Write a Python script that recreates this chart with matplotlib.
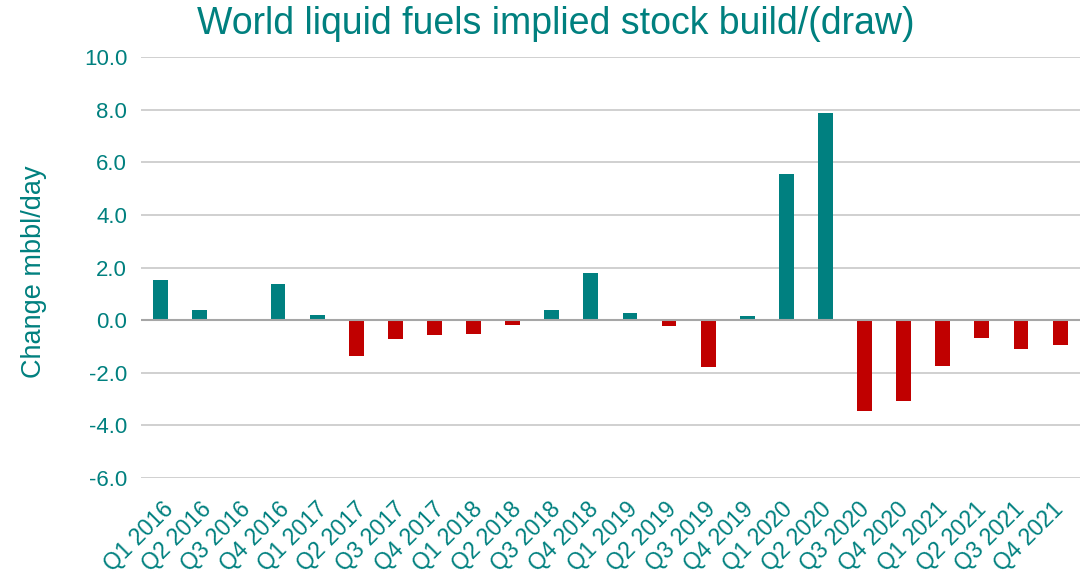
import matplotlib
matplotlib.use("Agg")
import matplotlib.pyplot as plt
from matplotlib.transforms import ScaledTranslation

plt.rcParams['font.family'] = ['Liberation Sans', 'DejaVu Sans']

quarters = ["Q1 2016", "Q2 2016", "Q3 2016", "Q4 2016",
            "Q1 2017", "Q2 2017", "Q3 2017", "Q4 2017",
            "Q1 2018", "Q2 2018", "Q3 2018", "Q4 2018",
            "Q1 2019", "Q2 2019", "Q3 2019", "Q4 2019",
            "Q1 2020", "Q2 2020", "Q3 2020", "Q4 2020",
            "Q1 2021", "Q2 2021", "Q3 2021", "Q4 2021"]
values = [1.51, 0.39, 0.0, 1.36,
          0.20, -1.35, -0.73, -0.56,
          -0.54, -0.19, 0.38, 1.81,
          0.28, -0.23, -1.78, 0.15,
          5.54, 7.89, -3.45, -3.08,
          -1.76, -0.69, -1.10, -0.93]
y_ticks = [-6, -4, -2, 0, 2, 4, 6, 8, 10]

TEAL = "#008080"
RED = "#C00000"
TEXT = "#00807F"

fig = plt.figure(figsize=(10.89, 5.74), dpi=100)
ax = fig.add_axes([0.1296, 0.1672, 0.8618, 0.7335])

colors = [TEAL if v >= 0 else RED for v in values]
x = list(range(len(quarters)))
ax.bar(x, values, width=0.38, color=colors, zorder=3)

ax.set_xlim(-0.5, len(quarters) - 0.5)
ax.set_ylim(-6, 10)
ax.set_yticks(y_ticks)
ax.set_yticklabels([f"{t:.1f}" for t in y_ticks])
ax.yaxis.grid(True, color="#D0D0D0", linewidth=1.4, zorder=0)
ax.axhline(0, color="#A6A6A6", linewidth=1.5, zorder=4)

for s in ax.spines.values():
    s.set_visible(False)
ax.tick_params(axis='y', length=0, pad=10, labelsize=16, labelcolor=TEXT)
ax.tick_params(axis='x', length=0, pad=14, labelsize=16.5, labelcolor=TEXT)

ax.set_xticks(x)
ax.set_xticklabels(quarters, rotation=45, ha='right', va='top')
n = len(quarters)
for i, lbl in enumerate(ax.get_xticklabels()):
    dx = (17 - 9 * i / (n - 1)) / 100
    lbl.set_transform(lbl.get_transform() + ScaledTranslation(dx, 0, fig.dpi_scale_trans))

fig.text(0.51, 0.958, "World liquid fuels implied stock build/(draw)",
         ha='center', va='center', fontsize=27, color=TEXT)
fig.text(0.031, 0.526, "Change mbbl/day", rotation=90,
         ha='center', va='center', fontsize=19.5, color=TEXT)

fig.savefig("out.png", dpi=100)
